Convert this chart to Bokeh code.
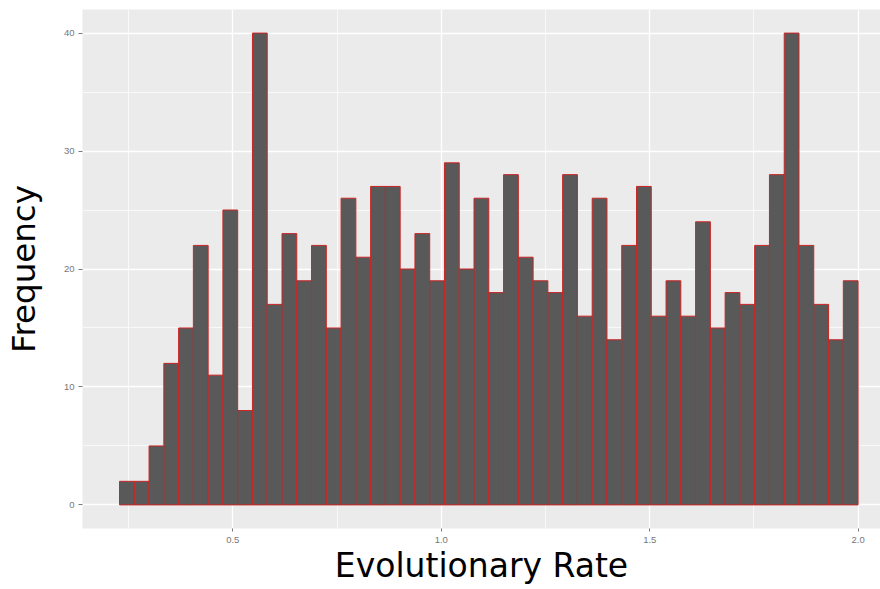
import numpy as np
from bokeh.plotting import figure
from bokeh.models import FixedTicker, NumeralTickFormatter, ColumnDataSource
from bokeh.embed import file_html
from bokeh.resources import INLINE

# Histogram counts per bin
counts = [2, 2, 5, 12, 15, 22, 11, 25, 8, 40,
          17, 23, 19, 22, 15, 26, 21, 27, 27, 20,
          23, 19, 29, 20, 26, 18, 28, 21, 19, 18,
          28, 16, 26, 14, 22, 27, 16, 19, 16, 24,
          15, 18, 17, 22, 28, 40, 22, 17, 14, 19]
# centre of the first and last bins (evolutionary rate)
rate_min = 0.246
rate_max = 1.982
x_ticks = [0.5, 1.0, 1.5, 2.0]
x_minor = [0.25, 0.75, 1.25, 1.75]
y_ticks = [0, 10, 20, 30, 40]
y_minor = [5, 15, 25, 35]
x_title = "Evolutionary Rate"
y_title = "Frequency"

n = len(counts)
bw = (rate_max - rate_min) / (n - 1)
centers = rate_min + bw * np.arange(n)
src = ColumnDataSource(dict(left=centers - bw / 2, right=centers + bw / 2, top=counts))

p = figure(width=880, height=589, x_range=(0.1395, 2.0535), y_range=(-2, 42),
           output_backend="svg", toolbar_location=None, title=None,
           min_border_left=82, min_border_right=0, min_border_top=9, min_border_bottom=61,
           background_fill_color="#EBEBEB", border_fill_color="white")
p.outline_line_color = None

p.quad(left="left", right="right", bottom=0, top="top", source=src,
       fill_color="#595959", line_color="#cc2424", line_width=1)

p.xaxis.ticker = FixedTicker(ticks=x_ticks, minor_ticks=x_minor)
p.yaxis.ticker = FixedTicker(ticks=y_ticks, minor_ticks=y_minor)
p.xaxis.formatter = NumeralTickFormatter(format="0.0")

for g in (p.xgrid, p.ygrid):
    g.grid_line_color = "white"
    g.grid_line_width = 1.3
    g.minor_grid_line_color = "white"
    g.minor_grid_line_width = 0.7

for ax in (p.xaxis, p.yaxis):
    ax.axis_line_color = None
    ax.minor_tick_line_color = None
    ax.major_tick_line_color = "#7a7a7a"
    ax.major_tick_in = 0
    ax.major_label_text_font = "Liberation Sans"
    ax.major_label_text_font_size = "9.5px"
    ax.major_label_text_color = "#777777"
    ax.axis_label_text_font = "DejaVu Sans"
    ax.axis_label_text_font_style = "normal"
    ax.axis_label_text_color = "black"

p.xaxis.major_tick_out = 3
p.xaxis.major_label_standoff = 4
p.yaxis.major_tick_out = 4
p.yaxis.major_label_standoff = 4

p.xaxis.axis_label = x_title
p.xaxis.axis_label_text_font_size = "33px"
p.xaxis.axis_label_standoff = 0

p.yaxis.axis_label = y_title
p.yaxis.axis_label_text_font_size = "32.5px"
p.yaxis.axis_label_standoff = 18

open("out.html", "w").write(file_html(p, INLINE))
